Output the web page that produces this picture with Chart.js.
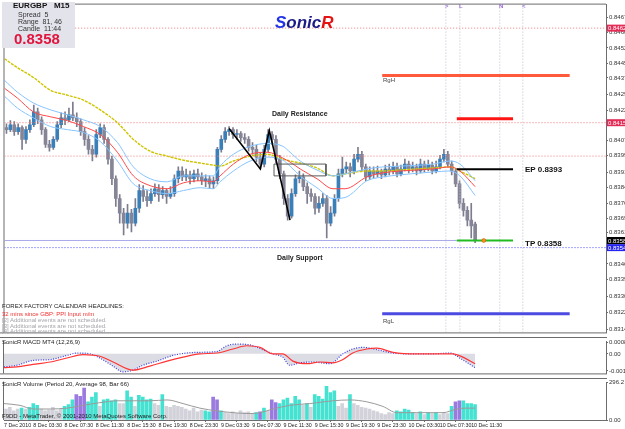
<!DOCTYPE html>
<html>
<head>
<meta charset="utf-8">
<script src="https://cdn.jsdelivr.net/npm/chart.js@4.4.1/dist/chart.umd.min.js"></script>
<style>
  body { margin: 0; background: #fff; font-family: 'Liberation Sans', Arial, sans-serif; }
  #wrap { position: relative; width: 625px; height: 429px; overflow: hidden; background: #fff; }
  canvas { position: absolute; left: 0; }
  .t { position: absolute; white-space: nowrap; line-height: 1; }
  .info { position: absolute; left: 2px; top: 2px; width: 73px; height: 46px; background: #e3e3ec; }
</style>
</head>
<body>
<div id="wrap">
  <canvas id="cMain" width="625" height="337" style="top:0px;width:625px;height:337px"></canvas>
  <canvas id="cMacd" width="625" height="41" style="top:337px;width:625px;height:41px"></canvas>
  <canvas id="cVol" width="625" height="51" style="top:378px;width:625px;height:51px"></canvas>

  <div class="info"></div>
  <div class="t" style="left:13px;top:2px;font-size:8px;font-weight:bold;color:#111">EURGBP&nbsp;&nbsp;&nbsp;M15</div>
  <div class="t" style="left:18px;top:11px;font-size:7px;color:#333">Spread&nbsp;&nbsp;5</div>
  <div class="t" style="left:18px;top:18px;font-size:7px;color:#333">Range&nbsp;&nbsp;81, 46</div>
  <div class="t" style="left:18px;top:25px;font-size:7px;color:#333">Candle&nbsp;&nbsp;11:44</div>
  <div class="t" style="left:14px;top:31px;font-size:15px;font-weight:bold;color:#e0143c">0.8358</div>

  <div class="t" style="left:275px;top:14px;font-size:17px;font-weight:bold;font-style:italic"><span style="color:#2233e6">S</span><span style="color:#1c1c86">onic</span><span style="color:#e41414">R</span></div>

  <div class="t" style="left:445px;top:3px;font-size:6px;font-weight:bold;color:#9a6ad8">&gt;</div>
  <div class="t" style="left:459px;top:3px;font-size:6px;font-weight:bold;color:#9a6ad8">L</div>
  <div class="t" style="left:499px;top:3px;font-size:6px;font-weight:bold;color:#9a6ad8">N</div>
  <div class="t" style="left:522px;top:3px;font-size:6px;font-weight:bold;color:#9a6ad8">&lt;</div>

  <div class="t" style="left:272px;top:110px;font-size:7px;font-weight:bold;color:#222">Daily Resistance</div>
  <div class="t" style="left:277px;top:254px;font-size:7px;font-weight:bold;color:#222">Daily Support</div>
  <div class="t" style="left:525px;top:166px;font-size:8px;font-weight:bold;color:#111">EP 0.8393</div>
  <div class="t" style="left:525px;top:240px;font-size:8px;font-weight:bold;color:#111">TP 0.8358</div>
  <div class="t" style="left:383px;top:77px;font-size:6px;color:#444">RgH</div>
  <div class="t" style="left:383px;top:318px;font-size:6px;color:#444">RgL</div>

  <div class="t" style="left:2px;top:303px;font-size:6px;color:#222">FOREX FACTORY CALENDAR  HEADLINES:</div>
  <div class="t" style="left:2px;top:311px;font-size:6px;color:#f03030">32 mins since GBP: PPI Input m/m</div>
  <div class="t" style="left:2px;top:317px;font-size:6px;color:#a4a4ac">[2]  Additional events are not scheduled.</div>
  <div class="t" style="left:2px;top:322.5px;font-size:6px;color:#a4a4ac">[3]  Additional events are not scheduled.</div>
  <div class="t" style="left:2px;top:328px;font-size:6px;color:#a4a4ac">[4]  Additional events are not scheduled.</div>

  <div class="t" style="left:2px;top:339px;font-size:6px;color:#222">SonicR MACD MT4 (12,26,9)</div>
  <div class="t" style="left:2px;top:381px;font-size:6px;color:#222">SonicR Volume  (Period 20, Average 98, Bar 66)</div>
  <div class="t" style="left:2px;top:413px;font-size:6px;color:#222">F9DD - MetaTrader, © 2001-2010 MetaQuotes Software Corp.</div>
</div>

<script>
// EURGBP candles, one entry per bar (oldest first)
const openP = [
  0.84134,0.84124,0.84148,0.84114,0.84134,0.84076,0.84124,0.84148,0.84211,0.84172,
  0.84124,0.84052,0.84037,0.84076,0.84148,0.84182,0.84172,0.84197,0.84182,0.84163,
  0.84114,0.84076,0.84027,0.84003,0.84100,0.84134,0.84076,0.83979,0.83883,0.83786,
  0.83714,0.83665,0.83714,0.83665,0.83738,0.83825,0.83796,0.83776,0.83810,0.83834,
  0.83805,0.83825,0.83796,0.83810,0.83883,0.83921,0.83892,0.83902,0.83883,0.83907,
  0.83892,0.83873,0.83883,0.83858,0.83873,0.84027,0.84076,0.84114,0.84124,0.84100,
  0.84105,0.84085,0.84076,0.84037,0.84027,0.83989,0.83955,0.84027,0.84100,0.84076,
  0.83979,0.83907,0.83786,0.83699,0.83810,0.83883,0.83892,0.83844,0.83810,0.83796,
  0.83738,0.83762,0.83786,0.83665,0.83714,0.83786,0.83907,0.83931,0.83941,0.83921,
  0.83979,0.84003,0.83941,0.83892,0.83921,0.83907,0.83921,0.83902,0.83931,0.83921,
  0.83941,0.83907,0.83931,0.83955,0.83931,0.83941,0.83921,0.83955,0.83931,0.83950,
  0.83921,0.83941,0.83979,0.84003,0.83955,0.83921,0.83858,0.83762,0.83728,0.83680,
  0.83660
];
const highP = [
  0.84153,0.84168,0.84163,0.84153,0.84143,0.84139,0.84172,0.84245,0.84230,0.84187,
  0.84134,0.84071,0.84090,0.84163,0.84206,0.84211,0.84230,0.84259,0.84206,0.84177,
  0.84134,0.84095,0.84047,0.84124,0.84153,0.84148,0.84085,0.83994,0.83897,0.83805,
  0.83738,0.83757,0.83733,0.83786,0.83854,0.83849,0.83825,0.83834,0.83858,0.83854,
  0.83844,0.83834,0.83844,0.83902,0.83941,0.83941,0.83931,0.83921,0.83926,0.83931,
  0.83912,0.83902,0.83897,0.83892,0.84037,0.84095,0.84134,0.84139,0.84134,0.84124,
  0.84114,0.84105,0.84090,0.84061,0.84047,0.84008,0.84047,0.84124,0.84114,0.84095,
  0.83998,0.83921,0.83805,0.83834,0.83902,0.83921,0.83907,0.83863,0.83834,0.83810,
  0.83796,0.83810,0.83801,0.83747,0.83805,0.83931,0.83989,0.83965,0.83960,0.84003,
  0.84037,0.84018,0.83955,0.83941,0.83941,0.83945,0.83931,0.83950,0.83955,0.83965,
  0.83960,0.83950,0.83979,0.83970,0.83965,0.83955,0.83979,0.83970,0.83974,0.83965,
  0.83970,0.83998,0.84027,0.84018,0.83970,0.83931,0.83873,0.83786,0.83747,0.83762,
  0.83670
];
const lowP = [
  0.84105,0.84114,0.84095,0.84100,0.84027,0.84056,0.84110,0.84139,0.84153,0.84100,
  0.84037,0.84018,0.84027,0.84066,0.84134,0.84148,0.84163,0.84168,0.84139,0.84095,
  0.84047,0.84003,0.83970,0.83989,0.84085,0.84056,0.83955,0.83854,0.83747,0.83665,
  0.83607,0.83641,0.83622,0.83651,0.83718,0.83772,0.83747,0.83762,0.83796,0.83772,
  0.83786,0.83762,0.83786,0.83796,0.83863,0.83873,0.83873,0.83858,0.83868,0.83873,
  0.83854,0.83844,0.83834,0.83834,0.83858,0.84013,0.84061,0.84095,0.84081,0.84076,
  0.84066,0.84056,0.84018,0.84003,0.83965,0.83931,0.83941,0.84013,0.84052,0.83960,
  0.83883,0.83757,0.83680,0.83689,0.83796,0.83863,0.83825,0.83762,0.83772,0.83709,
  0.83718,0.83747,0.83593,0.83651,0.83699,0.83772,0.83892,0.83912,0.83892,0.83907,
  0.83965,0.83921,0.83873,0.83878,0.83887,0.83892,0.83883,0.83892,0.83902,0.83907,
  0.83892,0.83897,0.83921,0.83912,0.83916,0.83902,0.83912,0.83916,0.83921,0.83907,
  0.83912,0.83931,0.83965,0.83941,0.83902,0.83844,0.83738,0.83699,0.83651,0.83593,
  0.83569
];
const closeP = [
  0.84124,0.84148,0.84114,0.84134,0.84076,0.84124,0.84148,0.84211,0.84172,0.84124,
  0.84052,0.84037,0.84076,0.84148,0.84182,0.84172,0.84197,0.84182,0.84163,0.84114,
  0.84076,0.84027,0.84003,0.84100,0.84134,0.84076,0.83979,0.83883,0.83786,0.83714,
  0.83665,0.83714,0.83665,0.83738,0.83825,0.83796,0.83776,0.83810,0.83834,0.83805,
  0.83825,0.83796,0.83810,0.83883,0.83921,0.83892,0.83902,0.83883,0.83907,0.83892,
  0.83873,0.83883,0.83858,0.83873,0.84027,0.84076,0.84114,0.84124,0.84100,0.84105,
  0.84085,0.84076,0.84037,0.84027,0.83989,0.83955,0.84027,0.84100,0.84076,0.83979,
  0.83907,0.83786,0.83699,0.83810,0.83883,0.83892,0.83844,0.83810,0.83796,0.83738,
  0.83762,0.83786,0.83665,0.83714,0.83786,0.83907,0.83931,0.83941,0.83921,0.83979,
  0.84003,0.83941,0.83892,0.83921,0.83907,0.83921,0.83902,0.83931,0.83921,0.83941,
  0.83907,0.83931,0.83955,0.83931,0.83941,0.83921,0.83955,0.83931,0.83950,0.83921,
  0.83941,0.83979,0.84003,0.83955,0.83921,0.83858,0.83762,0.83728,0.83680,0.83651,
  0.83580
];

// moving averages (bar position, value)
const maIdx    = [-0.5,2.8,6.9,11.3,15.6,19.7,24,28.4,32.5,36.8,41.2,45.3,49.6,52.9,54.7,58.1,62.4,66.8,70.8,72.6,75.2,79.5,83.6,86.7,92.3,96.4,100.8,109.2,113.6,116.1,120];
const slowMA   = [0.84472,0.84428,0.84380,0.84317,0.84293,0.84269,0.84221,0.84158,0.84076,0.84018,0.83994,0.83974,0.83960,0.83950,0.83945,0.83970,0.83994,0.84003,0.83979,0.83970,0.83960,0.83936,0.83897,0.83907,0.83921,0.83921,0.83926,0.83936,0.83941,0.83921,0.83883];
const emaClose = [0.84327,0.84279,0.84211,0.84187,0.84168,0.84139,0.84100,0.84013,0.83897,0.83849,0.83834,0.83863,0.83873,0.83868,0.83897,0.83955,0.84003,0.84013,0.83984,0.83965,0.83931,0.83883,0.83834,0.83834,0.83892,0.83912,0.83921,0.83931,0.83941,0.83921,0.83844];
const emaHigh  = [0.84366,0.84308,0.84255,0.84221,0.84197,0.84172,0.84139,0.84061,0.83941,0.83883,0.83868,0.83897,0.83897,0.83897,0.83945,0.84003,0.84042,0.84056,0.84042,0.84013,0.83970,0.83926,0.83897,0.83907,0.83931,0.83941,0.83945,0.83955,0.83970,0.83955,0.83873];
const emaLow   = [0.84288,0.84230,0.84182,0.84139,0.84124,0.84110,0.84066,0.83970,0.83858,0.83825,0.83810,0.83825,0.83839,0.83834,0.83868,0.83921,0.83970,0.83989,0.83974,0.83945,0.83897,0.83839,0.83786,0.83791,0.83873,0.83892,0.83902,0.83916,0.83921,0.83897,0.83801];

// levels and drawn objects
const resLevels  = [0.84622, 0.84158, 0.83994];
const supLevel   = 0.83545;
const bidLevel   = 0.8358;
const rangeHigh  = 0.84390;
const rangeLow   = 0.83221;
const slLevel    = 0.84177;
const epLevel    = 0.8393;
const tpLevel    = 0.8358;
const rangeSpan  = [96.2, 144.2];
const tradeSpan  = [115.3, 129.7];
const sessionIdx = [112.5, 116.1, 126.3, 132.2];
const zigIdx     = [57, 65, 67.3, 72.6];
const zigPrice   = [0.84129, 0.83931, 0.84119, 0.83680];
const boxIdx     = [68.5, 81.8];
const boxPrice   = [0.83955, 0.83897];

// MACD window
const macdIdx    = [-0.5,2.8,6.9,11.3,15.6,18.2,21.5,24,27.4,29.9,32.5,35,38.6,42.7,46.3,49.6,54,56.5,59.1,62.4,65.7,68.3,70.8,72.6,75.2,78.5,82.9,86.2,88.7,91.3,94.9,99,103.3,109.2,113.6,116.1,118.7,120];
const macdMain   = [-0.00091,-0.00080,-0.00046,-0.00040,-0.00011,0.00006,0,-0.00029,-0.00086,-0.00126,-0.00114,-0.00080,-0.00051,-0.00011,0.00006,0.00011,0.00017,0.00057,0.00069,0.00063,0.00029,0,-0.00023,-0.00080,-0.00063,-0.00057,-0.00069,0,0.00034,0.00046,0.00029,0.00006,0,0,0.00006,-0.00029,-0.00074,-0.00097];
const sigIdx     = [-0.5,2.8,6.9,11.3,15.6,19.7,24,27.4,32.5,36.8,41.2,45.3,49.6,54,58.1,61.6,65,68.3,70.8,73.4,77,80.3,83.6,86.2,88.7,92.3,94.9,99,105.1,111,114.3,116.9,120];
const macdSignal = [-0.00097,-0.00091,-0.00074,-0.00057,-0.00029,-0.00006,-0.00017,-0.00057,-0.00114,-0.00086,-0.00051,-0.00023,0,0.00006,0.00034,0.00057,0.00046,0,0,-0.00051,-0.00069,-0.00057,-0.00063,-0.00040,0.00006,0.00034,0.00040,0.00011,0,0,0,-0.00023,-0.00069];

// volume window
const volume = [
  87,101,72,87,94,87,101,130,116,87,
  72,79,101,72,87,108,123,159,202,188,
  253,144,181,217,108,159,166,152,159,130,
  130,231,181,108,195,181,159,166,130,116,
  202,108,101,116,108,101,87,72,94,65,
  79,72,65,181,159,72,58,51,65,51,
  72,58,65,51,58,65,94,72,159,137,
  130,159,173,130,188,159,116,130,101,202,
  188,166,267,217,231,108,130,94,202,130,
  116,101,94,87,72,65,51,43,58,51,
  72,65,87,79,58,51,65,43,58,51,
  58,43,58,51,108,144,152,152,130,130,
  123
];
const volKind = ('ggggtgtttg' + 'gggggtttpp' + 'ptttgttttg' + 'gttgttttgg' + 'tggggggggg' +
                 'gttpptgggg' + 'ggggtptgpp' + 'ttttttgtgt' + 'tttttgggtg' + 'gggggggggg' +
                 'tttttgtgtg' + 'tgggtppttt' + 't').split('');
const volMaIdx = [-0.5,3.6,6.9,11.3,15.6,19.7,24,28.4,32.5,36.8,41.2,45.3,49.6,54,58.1,62.4,65,68.3,72.6,77.7,79.5,83.6,88,92.3,96.4,100,105.1,111.8,115.3,117.8,120];
const volMa    = [130,116,87,87,94,116,137,152,152,152,159,130,94,72,58,51,58,87,116,130,137,152,159,144,108,58,58,58,87,94,94];

// axes
const priceTicks = [0.84675,0.84600,0.84525,0.84450,0.84378,0.84295,0.84220,0.84148,0.84070,0.83998,0.83915,0.83840,0.83763,0.83690,0.83618,0.83538,0.83465,0.83390,0.83305,0.83225,0.83145];
const macdTicks  = [0.0008, 0, -0.0012];
const volTicks   = [296.2, 0];
const timeTicks  = [-0.5,7,15,23,31,39,47,55,63,71,79,87,95,103,111,119];
const timeLabels = ['7 Dec 2010','8 Dec 03:30','8 Dec 07:30','8 Dec 11:30','8 Dec 15:30','8 Dec 19:30','8 Dec 23:30','9 Dec 03:30','9 Dec 07:30','9 Dec 11:30','9 Dec 15:30','9 Dec 19:30','9 Dec 23:30','10 Dec 03:30','10 Dec 07:30','10 Dec 11:30'];

const xMin = -0.5, xMax = 153.5;
const priceMin = 0.83129, priceMax = 0.847375;
const lineCol = '#6c6c6c';

Chart.defaults.font.family = "'Liberation Sans', Arial, sans-serif";
Chart.defaults.animation = false;
Chart.defaults.plugins.legend.display = false;
Chart.defaults.plugins.tooltip.enabled = false;

// frame lines round each window
const frame = {
  id: 'frame',
  afterDraw(chart, args, opts) {
    const { ctx, chartArea: a } = chart;
    ctx.save();
    ctx.fillStyle = lineCol;
    if (opts.top) ctx.fillRect(0, 0, a.right + 1, 1);
    else ctx.fillRect(a.left - 1, a.top - 1, a.right - a.left + 1, 1);
    ctx.fillRect(a.left - 1, a.top - 1, 1, a.bottom - a.top + 1);
    if (opts.bottom) ctx.fillRect(0, a.bottom, a.right + 1, 1);
    ctx.restore();
  }
};

// coloured price tags on the right scale
const tagValues = [resLevels[0], resLevels[1], bidLevel, supLevel];
const tagColors = ['#e32b55', '#e32b55', '#000000', '#2424f0'];
const axisTags = {
  id: 'axisTags',
  afterDraw(chart) {
    const y = chart.scales.y, ctx = chart.ctx;
    ctx.save();
    ctx.font = "6px 'Liberation Sans', Arial";
    ctx.textBaseline = 'middle';
    tagValues.forEach((v, k) => {
      const py = y.getPixelForValue(v);
      ctx.fillStyle = tagColors[k];
      ctx.fillRect(y.left + 1, py - 3.5, 24, 7);
      ctx.fillStyle = '#fff';
      ctx.fillText(v.toFixed(5), y.left + 2, py + 0.5);
    });
    ctx.restore();
  }
};

function yAxis(min, max, ticks, fmt, extra) {
  return Object.assign({
    position: 'right', min, max,
    afterFit: s => { s.width = 19; },
    afterBuildTicks: s => { s.ticks = ticks.map(v => ({ value: v })); },
    grid: { drawOnChartArea: false, tickLength: 2, color: lineCol },
    border: { color: lineCol },
    ticks: { autoSkip: false, padding: 1, color: '#333', font: { size: 6 }, callback: fmt }
  }, extra || {});
}
const hiddenX = { type: 'linear', min: xMin, max: xMax, offset: false, display: false };

function pts(xs, ys) { return xs.map((x, k) => ({ x, y: ys[k] })); }
function line(data, color, width, dash, order, more) {
  return Object.assign({ type: 'line', data, borderColor: color, borderWidth: width, borderDash: dash || [],
    pointRadius: 0, fill: false, order: order, tension: 0 }, more || {});
}

const bullCol = '#3b7fb9', bearCol = '#858597', wickCol = '#7c7c8e';
const wicks = openP.map((o, i) => ({ x: i, y: [lowP[i], highP[i]] }));
const bodies = openP.map((o, i) => ({ x: i, y: [o, closeP[i]] }));
const bodyCols = openP.map((o, i) => closeP[i] > o ? bullCol : bearCol);

const smooth = { cubicInterpolationMode: 'monotone' };
const dot = [1, 2];

new Chart(document.getElementById('cMain'), {
  type: 'bar',
  data: {
    datasets: [
      { data: wicks, backgroundColor: wickCol, barThickness: 1, grouped: false, order: 20 },
      { data: bodies, backgroundColor: bodyCols, barThickness: 3, grouped: false, minBarLength: 1, order: 19 },
      line(pts(maIdx, slowMA), '#cfc400', 1.4, [3, 1], 8, smooth),
      line(pts(maIdx, emaHigh), '#86c4ff', 1, [], 7, smooth),
      line(pts(maIdx, emaLow), '#86c4ff', 1, [], 7, smooth),
      line(pts(maIdx, emaClose), '#ff4a4a', 1, [], 6, smooth),
      line(pts([17.6, xMax], [resLevels[0], resLevels[0]]), '#f07a7a', 1, dot, 12),
      line(pts([xMin, xMax], [resLevels[1], resLevels[1]]), '#f07a7a', 1, dot, 12),
      line(pts([xMin, xMax], [resLevels[2], resLevels[2]]), '#f07a7a', 1, dot, 12),
      line(pts([xMin, xMax], [supLevel, supLevel]), '#4a4aff', 1, dot, 12),
      line(pts([xMin, tradeSpan[0]], [bidLevel, bidLevel]), '#aaaaea', 1, [], 12),
      ...sessionIdx.map(v => line(pts([v, v], [priceMax, priceMin]), '#bcbcd0', 1, dot, 12)),
      line(pts(rangeSpan, [rangeHigh, rangeHigh]), '#ff5a3c', 3, [], 3),
      line(pts(rangeSpan, [rangeLow, rangeLow]), '#4b4be2', 3, [], 3),
      line(pts(tradeSpan, [slLevel, slLevel]), '#ff1414', 3, [], 3),
      line(pts(tradeSpan, [epLevel, epLevel]), '#000000', 2, [], 3),
      line(pts(tradeSpan, [tpLevel, tpLevel]), '#22bb22', 2, [], 3),
      line(pts(zigIdx, zigPrice), '#000000', 1.6, [], 2),
      line(pts([boxIdx[0], boxIdx[1], boxIdx[1], boxIdx[0], boxIdx[0]],
               [boxPrice[0], boxPrice[0], boxPrice[1], boxPrice[1], boxPrice[0]]), '#5a5a5a', 1, [], 2),
      line(pts([122.2], [bidLevel]), '#c05000', 1, [], 1,
           { showLine: false, pointRadius: 2, pointBackgroundColor: '#ff8c1a', pointBorderColor: '#c05000', pointBorderWidth: 0.5 })
    ]
  },
  options: {
    responsive: false,
    layout: { padding: { left: 4, top: 3, right: 0, bottom: 1 } },
    scales: {
      x: hiddenX,
      y: yAxis(priceMin, priceMax, priceTicks, v => v.toFixed(5))
    },
    plugins: { frame: { bottom: true } }
  },
  plugins: [frame, axisTags]
});

new Chart(document.getElementById('cMacd'), {
  type: 'line',
  data: {
    datasets: [
      line(pts(macdIdx, macdMain), '#3c3ce6', 1.2, [1, 1.5], 2,
           Object.assign({ fill: 'origin', backgroundColor: 'rgba(196,196,210,0.6)' }, smooth)),
      line(pts(sigIdx, macdSignal), '#ff3434', 1.2, [], 1, smooth)
    ]
  },
  options: {
    responsive: false,
    layout: { padding: { left: 4, top: 1, right: 0, bottom: 1 } },
    scales: {
      x: hiddenX,
      y: yAxis(-0.00137, 0.00086, macdTicks, v => v === 0 ? '0.00' : v.toFixed(4))
    },
    plugins: { frame: { top: true, bottom: true } }
  },
  plugins: [frame]
});

const kindCol = { g: '#d2d2da', t: '#45e2d2', p: '#9b7ae0' };
new Chart(document.getElementById('cVol'), {
  type: 'bar',
  data: {
    datasets: [
      line(pts(volMaIdx, volMa), '#9a9a9a', 1, [], 1, smooth),
      { data: volume.map((v, i) => ({ x: i, y: v })), backgroundColor: volKind.map(k => kindCol[k]),
        barThickness: 3, grouped: false, order: 5 }
    ]
  },
  options: {
    responsive: false,
    layout: { padding: { left: 4, top: 2, right: 0, bottom: 0 } },
    scales: {
      x: {
        type: 'linear', min: xMin, max: xMax, offset: false,
        afterBuildTicks: s => { s.ticks = timeTicks.map(v => ({ value: v })); },
        afterFit: s => { s.height = 9; },
        grid: { drawOnChartArea: false, tickLength: 2, color: lineCol },
        border: { color: lineCol },
        ticks: { autoSkip: false, maxRotation: 0, align: 'start', padding: 0, color: '#222',
                 font: { size: 5.3 }, callback: (v, k) => timeLabels[k] }
      },
      y: yAxis(0, 296.2, volTicks, v => v === 0 ? '0.00' : v.toFixed(1))
    },
    plugins: { frame: { top: true } }
  },
  plugins: [frame]
});
</script>
</body>
</html>
